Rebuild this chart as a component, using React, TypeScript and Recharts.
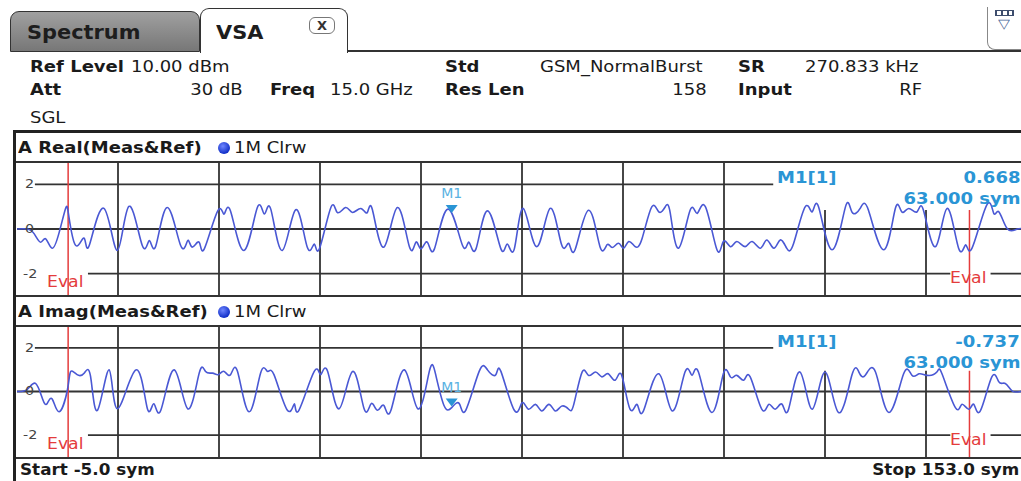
import React from 'react';
import { LineChart, Line, XAxis, YAxis, ReferenceLine, ReferenceDot } from 'recharts';

// symbol axis
const startSym = -5;
const stopSym = 153;
const gridSyms = [10.8, 26.6, 42.4, 58.2, 74.0, 89.8, 105.6, 121.4, 137.2];
const yTicks = [2, 0, -2];
const evalStart = 3;
const evalStop = 144;
const markerSym = 63;
const realMarker = 0.668;
const imagMarker = -0.737;

// A Real(Meas&Ref) trace, read off the screen
const realSym = [
  -5, -3.4, -2.3, -1.3, -0.5, 0.5, 1.6, 2.6, 3.1, 4.2, 5.5, 6.3, 8.6, 10.7, 12.5, 14.6, 15.7, 16.7, 18.5, 20.6,
  21.7, 22.4, 23.5, 24.3, 26.4, 27.4, 28.4, 30.5, 32.6, 33.7, 34.7, 36.5, 38.6, 40.4, 41.5, 42.3, 44.1, 45.1, 46.4, 47.5,
  48.8, 49.8, 50.6, 52.4, 54.5, 56.4, 57.4, 58.2, 59.2, 60.3, 62.4, 64.7, 65.7, 66.8, 68.6, 70.7, 71.7, 72.8, 74.2, 76.3,
  78.4, 80.2, 81.3, 82.3, 84.4, 86.2, 87.3, 88.1, 89.1, 89.9, 90.7, 91.7, 92.8, 94.3, 95.4, 96.4, 97.2, 98.5, 100.3, 101.4,
  102.7, 104.5, 105.5, 106.6, 107.6, 108.9, 110.0, 111.3, 112.3, 113.4, 114.4, 115.4, 116.5, 118.3, 119.4, 120.4, 122.5, 124.6, 125.6, 126.9,
  128.2, 130.6, 132.4, 133.4, 134.5, 135.8, 136.8, 138.7, 140.5, 142.3, 143.4, 144.4, 146.7, 147.8, 148.6, 149.9, 151.5, 153,
];
const realVal = [
  0, 0, -0.22, -0.59, -0.44, -0.86, -0.15, 0.92, 0.59, -0.74, -0.41, -0.74, 0.92, -0.96, 1.01, -0.74, -0.52, -0.77, 0.96, -0.74,
  -0.52, -0.81, -0.59, -0.89, 0.81, 0.67, 0.81, -0.96, 0.96, 0.67, 0.89, -0.96, 0.86, -0.81, -0.67, -0.89, 0.96, 0.74, 0.96, 0.74,
  0.92, 0.74, 0.86, -0.81, 0.96, -0.81, -0.59, -0.89, -0.59, -0.89, 0.89, -0.74, -0.59, -0.89, 0.81, -0.89, -0.67, -0.89, 0.92, -0.79,
  0.92, -0.71, -0.64, -0.93, 0.84, -0.79, -0.71, -0.83, -0.64, -0.86, -0.56, -0.79, -0.41, 0.99, 0.77, 0.99, 0.7, -0.86, 0.84, 0.7,
  0.99, -0.93, -0.56, -0.79, -0.56, -0.79, -0.56, -0.86, -0.49, -0.86, -0.49, -0.86, -0.64, 0.99, 0.77, 0.99, -0.93, 0.99, 0.77, 0.92,
  0.84, -0.93, 0.92, 0.77, 0.92, 0.77, 0.84, -0.79, 0.92, -0.86, -0.71, -0.86, 1.07, 0.7, 0.77, 0.02, 0, 0,
];

// A Imag(Meas&Ref) trace
const imagSym = [
  -5, -3.4, -2.1, -1.0, -0.3, 0.5, 1.6, 2.9, 3.4, 4.4, 5.5, 6.5, 7.6, 9.4, 10.7, 13.6, 15.4, 16.4, 17.5, 19.6,
  21.7, 23.5, 24.5, 25.6, 26.5, 27.4, 28.4, 29.5, 31.3, 33.1, 34.2, 35.2, 37.3, 38.4, 39.1, 41.5, 42.5, 43.6, 45.4, 47.5,
  49.3, 50.4, 51.4, 52.4, 53.5, 55.6, 57.7, 59.5, 60.5, 61.8, 63.0, 64.2, 65.2, 67.3, 68.6, 69.9, 70.7, 72.8, 74.0, 75.0,
  76.1, 77.1, 78.2, 79.2, 80.2, 81.3, 82.1, 83.4, 84.4, 85.5, 86.5, 87.5, 88.6, 89.6, 90.9, 92.0, 93.0, 95.4, 97.5, 99.5,
  100.6, 101.6, 103.7, 105.5, 106.6, 107.6, 108.7, 109.7, 111.5, 112.6, 113.6, 114.7, 115.7, 117.5, 119.4, 121.4, 123.5, 125.6, 126.7, 127.7,
  129.3, 131.4, 133.7, 135.0, 136.1, 137.4, 138.9, 139.7, 141.8, 142.8, 143.9, 144.7, 145.7, 147.5, 148.6, 149.6, 150.7, 152, 153,
];
const imagVal = [
  0, 0.1, 0.37, -0.34, -0.56, -0.34, -0.93, 0.1, 0.92, 0.77, 0.84, 0.7, -0.86, 0.99, -0.79, 0.99, -0.79, -0.56, -0.86, 0.99,
  -0.79, 0.84, 0.92, 0.84, 0.77, 0.92, 0.77, 0.92, -0.93, 0.84, 0.92, 0.77, -0.86, -0.56, -0.86, 0.92, 0.77, 0.92, -0.79, 0.92,
  -0.79, -0.56, -0.86, -0.64, -0.86, 0.99, -0.79, 0.92, 0.77, -0.64, -0.74, -0.56, -0.86, 0.92, 0.99, 0.77, 0.92, -0.86, -0.52, -0.81,
  -0.59, -0.89, -0.59, -0.89, -0.67, -0.81, -0.59, 0.89, 0.74, 0.89, 0.67, 0.81, 0.52, 0.74, -0.81, -0.59, -0.89, 0.81, -0.89, 0.89,
  0.74, 0.89, -0.96, 0.81, 0.67, 0.74, 0.52, 0.67, -0.81, -0.59, -0.81, -0.59, -0.81, 0.89, -0.81, 0.89, -0.96, 0.74, 0.89, 0.74,
  0.89, -0.96, 0.81, 0.74, 0.81, 0.74, 0.89, 0.81, -0.74, -0.59, -0.81, -0.59, -0.89, 0.67, 0.44, 0.37, 0.02, 0, 0,
];

const W = 1021;
const H = 481;
const FONT = '"DejaVu Sans", Verdana, sans-serif';
const GRID = '#333';
const TRACE = '#4a58d4';
const MARK = '#2a95d5';
const EVAL = '#e43c3c';

type TP = { x: number; y: number; s: string; b?: boolean; c?: string; fs?: number; sx?: number; right?: boolean };
const T = ({ x, y, s, b, c = '#1a1a1a', fs = 15, sx = 1.2, right }: TP) => (
  <div
    style={{
      position: 'absolute',
      top: y - fs * 0.7,
      height: fs * 1.4,
      lineHeight: `${fs * 1.4}px`,
      ...(right ? { right: W - x } : { left: x }),
      fontSize: fs,
      fontWeight: b ? 700 : 400,
      color: c,
      whiteSpace: 'nowrap',
      transform: `scaleX(${sx})`,
      transformOrigin: right ? 'right center' : 'left center',
    }}
  >
    {s}
  </div>
);

const HLine = ({ x, y, w, h = 2, c = GRID }: { x: number; y: number; w: number; h?: number; c?: string }) => (
  <div style={{ position: 'absolute', left: x, top: y, width: w, height: h, background: c }} />
);

const markerShape = (props: any) => {
  const { cx, cy } = props;
  return (
    <g>
      <path d={`M${cx - 6},${cy - 9} L${cx + 6},${cy - 9} L${cx},${cy - 1} Z`} fill={MARK} />
      <text x={cx} y={cy - 16} textAnchor="middle" fontSize={14} fill="#5ab2e2" fontFamily={FONT}>
        M1
      </text>
    </g>
  );
};

type PanelProps = {
  top: number;
  height: number;
  sym: number[];
  val: number[];
  mVal: number;
  title: string;
  boxFloor: number;
};

const Panel = ({ top, height, sym, val, mVal, title, boxFloor }: PanelProps) => {
  const data = sym.map((s, i) => ({ s, v: val[i] }));
  const unit = height / 6;
  const yOf = (v: number) => top + height / 2 - v * unit;
  return (
    <>
      <div style={{ position: 'absolute', left: 17, top, width: 1010, height }}>
        <LineChart width={1010} height={height} data={data} margin={{ top: 0, right: 0, bottom: 0, left: 0 }}>
          <XAxis dataKey="s" type="number" domain={[startSym, stopSym]} hide />
          <YAxis type="number" domain={[-3, 3]} hide />
          <ReferenceLine y={0} stroke={GRID} strokeWidth={1.8} />
          <ReferenceLine segment={[{ x: -2.2, y: 2 }, { x: 113.3, y: 2 }]} stroke={GRID} strokeWidth={1.8} />
          <ReferenceLine segment={[{ x: 6.1, y: -2 }, { x: 141, y: -2 }]} stroke={GRID} strokeWidth={1.8} />
          <ReferenceLine segment={[{ x: 147.3, y: -2 }, { x: stopSym, y: -2 }]} stroke={GRID} strokeWidth={1.8} />
          {gridSyms.map((g) =>
            g > 113 ? (
              <ReferenceLine key={g} segment={[{ x: g, y: boxFloor }, { x: g, y: -3 }]} stroke={GRID} strokeWidth={1.8} />
            ) : (
              <ReferenceLine key={g} x={g} stroke={GRID} strokeWidth={1.8} />
            )
          )}
          <ReferenceLine x={evalStart} stroke={EVAL} strokeWidth={1.5} />
          <ReferenceLine segment={[{ x: evalStop, y: boxFloor }, { x: evalStop, y: -3 }]} stroke={EVAL} strokeWidth={1.5} />
          <Line
            type="natural"
            dataKey="v"
            stroke={TRACE}
            strokeWidth={1.6}
            dot={false}
            isAnimationActive={false}
          />
          <ReferenceDot x={markerSym} y={mVal} r={0} shape={markerShape} />
        </LineChart>
      </div>
      {/* title bar */}
      <T x={18} y={top - 14} s={title} b fs={15} />
      <div
        style={{
          position: 'absolute',
          left: 218,
          top: top - 20,
          width: 12,
          height: 12,
          borderRadius: 6,
          background: 'radial-gradient(circle at 40% 35%, #6f86ff, #1230c8 70%)',
        }}
      />
      <T x={234} y={top - 14} s="1M Clrw" fs={15} />
      {/* y ticks */}
      {yTicks.map((t) => (
        <T key={t} x={t < 0 ? 23 : 25} y={yOf(t)} s={t === 0 ? '0' : `${t}`} c="#444" fs={13} sx={1.1} />
      ))}
      <T x={47} y={yOf(-2) + 9} s="Eval" c={EVAL} fs={15} sx={1.15} />
      <T x={950} y={yOf(-2) + 5} s="Eval" c={EVAL} fs={15} sx={1.15} />
      {/* marker info */}
      <T x={777} y={top + 16} s="M1[1]" b c={MARK} fs={15} />
      <T x={1020} y={top + 16} s={mVal.toFixed(3)} b c={MARK} fs={15} right />
      <T x={1020} y={top + 37} s={`${markerSym.toFixed(3)} sym`} b c={MARK} fs={15} right />
    </>
  );
};

const App = () => {
  return (
    <div
      style={{
        position: 'absolute',
        left: 0,
        top: 0,
        width: W,
        height: H,
        overflow: 'hidden',
        background: '#fff',
        fontFamily: FONT,
      }}
    >
      {/* tabs */}
      <div
        style={{
          position: 'absolute',
          left: 10,
          top: 11,
          width: 188,
          height: 39,
          background: 'linear-gradient(#a0a0a0, #777)',
          border: '1.5px solid #333',
          borderRadius: '9px 9px 0 0',
        }}
      />
      <T x={27} y={32} s="Spectrum" b fs={19} sx={1.1} c="#1d1d1d" />
      <div
        style={{
          position: 'absolute',
          left: 200,
          top: 8,
          width: 146,
          height: 44,
          background: '#fff',
          border: '1.5px solid #333',
          borderBottom: 'none',
          borderRadius: '9px 9px 0 0',
        }}
      />
      <T x={216} y={32} s="VSA" b fs={19} sx={1.1} c="#1d1d1d" />
      <div
        style={{
          position: 'absolute',
          left: 309,
          top: 17,
          width: 24,
          height: 15,
          border: '1.5px solid #777',
          borderRadius: 6,
          fontSize: 13,
          fontWeight: 700,
          lineHeight: '15px',
          textAlign: 'center',
          color: '#333',
        }}
      >
        X
      </div>
      <HLine x={348} y={50} w={673} />
      {/* right icon */}
      <div
        style={{
          position: 'absolute',
          left: 987,
          top: 7,
          width: 40,
          height: 42,
          borderLeft: '1.5px solid #888',
          borderBottom: '1.5px solid #888',
          borderRadius: '0 0 0 8px',
        }}
      />
      <div style={{ position: 'absolute', left: 995, top: 10, width: 19, height: 6, background: '#3d4d6d' }}>
        <div style={{ position: 'absolute', left: 2, top: 1, width: 4, height: 4, background: '#fff' }} />
        <div style={{ position: 'absolute', left: 8, top: 1, width: 4, height: 4, background: '#fff' }} />
        <div style={{ position: 'absolute', left: 14, top: 1, width: 3, height: 4, background: '#fff' }} />
      </div>
      <T x={998} y={24} s="▽" c="#4a6a9a" fs={13} sx={1.2} />

      {/* header params */}
      <T x={30} y={67} s="Ref Level" b />
      <T x={131} y={67} s="10.00 dBm" />
      <T x={30} y={90} s="Att" b />
      <T x={243} y={90} s="30 dB" right />
      <T x={270} y={90} s="Freq" b />
      <T x={330} y={90} s="15.0 GHz" />
      <T x={445} y={67} s="Std" b />
      <T x={540} y={67} s="GSM_NormalBurst" />
      <T x={445} y={90} s="Res Len" b />
      <T x={707} y={90} s="158" right />
      <T x={738} y={67} s="SR" b />
      <T x={805} y={67} s="270.833 kHz" />
      <T x={738} y={90} s="Input" b />
      <T x={922} y={90} s="RF" right />
      <T x={30} y={118} s="SGL" />

      {/* frame */}
      <HLine x={13} y={130} w={1008} h={3} c="#222" />
      <div style={{ position: 'absolute', left: 13, top: 130, width: 3, height: 351, background: '#222' }} />

      <Panel top={162} height={134} sym={realSym} val={realVal} mVal={realMarker} title="A Real(Meas&Ref)" boxFloor={0.85} />
      <Panel top={326} height={131} sym={imagSym} val={imagVal} mVal={imagMarker} title="A Imag(Meas&Ref)" boxFloor={0.95} />

      <HLine x={16} y={161} w={1005} />
      <HLine x={16} y={295} w={1005} />
      <HLine x={16} y={325} w={1005} />
      <HLine x={16} y={457} w={1005} />

      <T x={20} y={470} s={`Start ${startSym.toFixed(1)} sym`} b fs={15} sx={1.12} />
      <T x={1019} y={470} s={`Stop ${stopSym.toFixed(1)} sym`} b fs={15} sx={1.12} right />
    </div>
  );
};

export default App;
